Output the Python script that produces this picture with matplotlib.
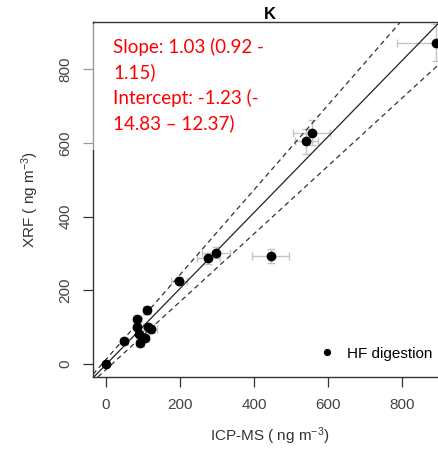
import matplotlib
matplotlib.use("Agg")
import matplotlib.pyplot as plt
from matplotlib.patches import Rectangle

plt.rcParams["font.family"] = ["Liberation Sans", "DejaVu Sans"]
plt.rcParams["mathtext.default"] = "regular"

# ICP-MS vs XRF, potassium (ng m-3)
icpms = [0, 49, 92, 106, 90, 83, 85, 110, 114, 123, 198, 277, 297, 445, 542, 557, 891]
xrf = [0, 63, 58, 72, 83, 101, 121, 147, 101, 95, 226, 287, 302, 293, 604, 628, 872]
icpms_err = [5, 10, 12, 10, 10, 10, 10, 10, 15, 15, 22, 30, 38, 51, 30, 50, 105]
xrf_err = [5, 8, 8, 8, 8, 8, 8, 10, 10, 10, 10, 15, 15, 20, 35, 35, 50]

slope, slope_lo, slope_hi = 1.03, 0.92, 1.15
icept, icept_lo, icept_hi = -1.23, -14.83, 12.37

fig = plt.figure(figsize=(4.39, 4.54), dpi=100)
ax = fig.add_axes([93 / 439, 77 / 454, 354 / 439, 355 / 454])

ax.errorbar(icpms, xrf, xerr=icpms_err, yerr=xrf_err, fmt="none",
            ecolor="#c4c4c4", elinewidth=1, capsize=3, zorder=1)
ax.plot(icpms, xrf, "o", color="black", ms=6, label="HF digestion", zorder=3)

ax.axline((0, icept), slope=slope, color="#222222", lw=0.9, zorder=2)
ax.axline((0, icept_hi), slope=slope_hi, color="#333333", lw=0.9, ls=(0, (4, 3)), zorder=2)
ax.axline((0, icept_lo), slope=slope_lo, color="#333333", lw=0.9, ls=(0, (4, 3)), zorder=2)

ax.set_xlim(-35, 922)
ax.set_ylim(-35, 928)
ax.set_xticks([0, 200, 400, 600, 800])
ax.set_yticks([0, 200, 400, 600, 800])
ax.tick_params(length=7, width=0.9, color="#333333", labelsize=11,
               labelcolor="#444444", pad=8)
for lab in ax.get_yticklabels():
    lab.set_rotation(90)
    lab.set_va("center")
for sp in ax.spines.values():
    sp.set_color("#333333")
    sp.set_linewidth(1)

ax.set_xlabel("ICP-MS ( ng m$^{-3}$)", fontsize=11, color="#333333", labelpad=10)
ax.set_ylabel("XRF ( ng m$^{-3}$)", fontsize=11, color="#333333", labelpad=12)
ax.set_title("K", fontsize=12, fontweight="bold", pad=1)

ax.legend(loc="lower right", frameon=False, fontsize=11, handletextpad=0.3,
          markerscale=0.7, borderaxespad=0.2, bbox_to_anchor=(0.985, 0.02))

# pasted annotation box (semi-opaque white) with the fit statistics
fig.patches.append(Rectangle((83 / 439, 1 - 150 / 454), 170 / 439, 126 / 454,
                             transform=fig.transFigure, facecolor="white",
                             alpha=0.5, edgecolor="none", zorder=5))
fig.text(113 / 439, 1 - 38 / 454,
         f"Slope: {slope:.2f} ({slope_lo:.2f} -\n{slope_hi:.2f})\n"
         f"Intercept: {icept:.2f} (-\n{abs(icept_lo):.2f} \u2013 {icept_hi:.2f})",
         color="red", fontsize=13.5, family="Lato", va="top", ha="left",
         linespacing=1.5, zorder=6)

fig.savefig("out.png", dpi=100)
